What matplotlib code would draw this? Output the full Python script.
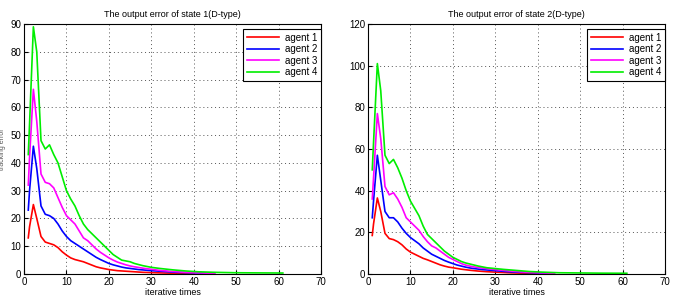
import matplotlib
matplotlib.use('Agg')
import matplotlib.pyplot as plt

plt.rcParams['font.family'] = ['Liberation Sans', 'DejaVu Sans']
plt.rcParams['font.size'] = 7

agents = ['agent 1', 'agent 2', 'agent 3', 'agent 4']
colors = ['#ff0000', '#0000ff', '#ff00ff', '#00ee00']

# state 1 (left panel)
s1_x = [
    [1, 1.3, 2.2, 3, 4, 5, 6, 7, 8, 9, 10, 11, 12, 13, 14, 15, 16, 17, 18, 19, 20, 22, 24, 26, 28, 30, 33, 36, 40],
    [1, 1.3, 2.2, 3, 4, 5, 6, 7, 8, 9, 10, 11, 12, 13, 14, 15, 16, 17, 18, 19, 20, 21, 22, 23, 24, 25, 27, 30, 33, 36, 40, 43],
    [1, 1.3, 2.2, 3, 4, 5, 6, 7, 8, 9, 10, 11, 12, 13, 14, 15, 16, 17, 18, 19, 20, 21, 22, 23, 24, 25, 26, 28, 30, 32, 35, 38, 41, 45],
    [1, 1.3, 2.2, 3, 4, 5, 6, 7, 8, 9, 10, 11, 12, 13, 14, 15, 16, 17, 18, 19, 20, 21, 22, 23, 24, 25, 26, 28, 30, 32, 35, 38, 41, 45, 50, 55, 61],
]
s1_y = [
    [13, 17, 25, 20, 13.5, 11.5, 11, 10.5, 9.5, 8, 6.8, 5.8, 5.2, 4.8, 4.4, 3.8, 3.2, 2.6, 2.2, 1.9, 1.6, 1.2, 1.0, 0.8, 0.6, 0.5, 0.35, 0.25, 0.15],
    [23, 30, 46, 38, 24.5, 21.5, 21, 20, 18, 15.5, 13.5, 12, 11, 10, 9, 8, 7, 6, 5.2, 4.5, 3.8, 3.3, 2.9, 2.5, 2.2, 2.0, 1.6, 1.2, 0.9, 0.6, 0.4, 0.2],
    [32, 42, 66.5, 55, 36, 33, 32.5, 31, 27.5, 24, 21, 19.5, 18, 15.5, 13, 12, 10.5, 9, 7.8, 6.8, 5.8, 5.0, 4.3, 3.8, 3.3, 2.9, 2.6, 2.1, 1.7, 1.3, 0.9, 0.6, 0.4, 0.2],
    [43, 54, 89, 80, 48, 45, 46.5, 43, 40, 35, 30, 27, 24.5, 21, 18, 16, 14.5, 13, 11.5, 10, 8.5, 7, 6, 5, 4.7, 4.4, 3.8, 3, 2.4, 2, 1.5, 1.1, 0.8, 0.6, 0.45, 0.4, 0.35],
]

# state 2 (right panel)
s2_x = [
    [1, 1.3, 2.2, 3, 4, 5, 6, 7, 8, 9, 10, 11, 12, 13, 14, 15, 16, 17, 18, 19, 20, 22, 24, 26, 28, 30, 33, 36, 40],
    [1, 1.3, 2.2, 3, 4, 5, 6, 7, 8, 9, 10, 11, 12, 13, 14, 15, 16, 17, 18, 19, 20, 21, 22, 23, 24, 25, 27, 30, 33, 36, 40, 43],
    [1, 1.3, 2.2, 3, 4, 5, 6, 7, 8, 9, 10, 11, 12, 13, 14, 15, 16, 17, 18, 19, 20, 21, 22, 23, 24, 25, 27, 30, 33, 36, 40, 44],
    [1, 1.3, 2.2, 3, 4, 5, 6, 7, 8, 9, 10, 11, 12, 13, 14, 15, 16, 17, 18, 19, 20, 21, 22, 23, 24, 25, 26, 28, 30, 32, 35, 38, 41, 45, 50, 55, 61],
]
s2_y = [
    [18.5, 24, 36.5, 30, 19.5, 17, 16.5, 15.5, 14, 12, 10.5, 9.5, 8.5, 7.5, 6.8, 6, 5.2, 4.4, 3.8, 3.3, 3.0, 2.3, 1.8, 1.4, 1.1, 0.9, 0.6, 0.4, 0.2],
    [27, 35, 57, 45, 30, 27, 27, 25, 22, 19.5, 17.5, 16, 14.5, 12.5, 11, 9.5, 8.5, 7.5, 6.5, 5.7, 5.0, 4.3, 3.8, 3.3, 2.9, 2.6, 2.1, 1.6, 1.1, 0.8, 0.5, 0.3],
    [36, 46, 77, 65, 42, 38, 39, 36, 32, 27, 25, 23, 21, 18, 15.5, 13.5, 12.5, 11, 9.5, 8, 7, 6, 5, 4.3, 3.8, 3.4, 2.8, 2.1, 1.5, 1.0, 0.6, 0.3],
    [50, 63, 101, 88, 57, 53, 55, 51, 46, 40, 35, 31.5, 28, 23, 19, 17, 15, 13, 11, 9.5, 8, 7, 6, 5.3, 4.8, 4.3, 3.8, 3, 2.6, 2.2, 1.7, 1.2, 0.9, 0.6, 0.5, 0.4, 0.35],
]

titles = ['The output error of state 1(D-type)', 'The output error of state 2(D-type)']

fig = plt.figure(figsize=(6.77, 3.07), dpi=100)
ax1 = fig.add_axes([0.0355, 0.1075, 0.4387, 0.8143])
ax2 = fig.add_axes([0.5436, 0.1075, 0.4387, 0.8143])

for ax, xs, ys, title, ymax, ystep in [(ax1, s1_x, s1_y, titles[0], 90, 10),
                                        (ax2, s2_x, s2_y, titles[1], 120, 20)]:
    for x, y, c, name in zip(xs, ys, colors, agents):
        ax.plot(x, y, color=c, lw=1.2, label=name)
    ax.set_xlim(0, 70)
    ax.set_ylim(0, ymax)
    ax.set_xticks(range(0, 71, 10))
    ax.set_yticks(range(0, ymax + 1, ystep))
    ax.grid(True, color='#555555', linestyle=(0, (1, 3)), linewidth=0.7)
    ax.tick_params(direction='in', length=3, labelsize=7, pad=2)
    ax.set_title(title, fontsize=6.5, pad=5)
    ax.set_xlabel('iterative times', fontsize=6.5, labelpad=1)
    for sp in ax.spines.values():
        sp.set_linewidth(0.8)
    leg = ax.legend(loc='upper right', bbox_to_anchor=(1.0, 0.98), borderaxespad=0,
                    fontsize=7, handlelength=3.3, handletextpad=0.6, fancybox=False,
                    framealpha=1, edgecolor='black', labelspacing=0.15, borderpad=0.4)
    leg.get_frame().set_linewidth(0.8)

ax1.set_ylabel('tracking error', fontsize=5, color='#555555')
ax1.yaxis.set_label_coords(-0.061, 0.5)

fig.savefig('out.png', dpi=100)
